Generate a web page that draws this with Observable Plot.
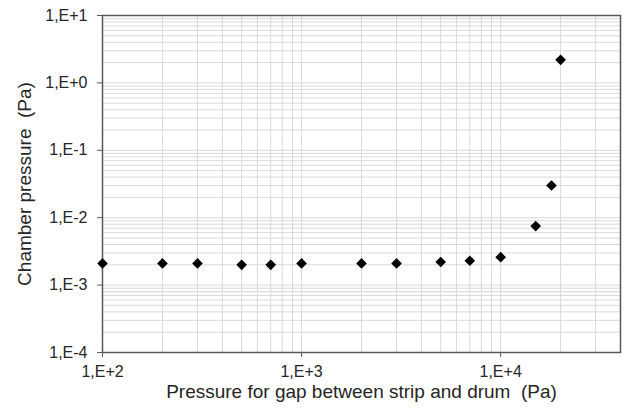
<!DOCTYPE html>
<html>
<head>
<meta charset="utf-8">
<script src="https://cdn.jsdelivr.net/npm/d3@7"></script>
<script src="https://cdn.jsdelivr.net/npm/@observablehq/plot@0.6"></script>
<style>
  html, body { margin: 0; padding: 0; background: #fff; }
  svg text { white-space: pre; }
</style>
</head>
<body>
<div id="chart"></div>
<script>
// Data
const gapPressure = [100, 200, 300, 500, 700, 1000, 2000, 3000, 5000, 7000, 10000, 15000, 18000, 20000];
const chamberPressure = [2.1e-3, 2.1e-3, 2.1e-3, 2.0e-3, 2.0e-3, 2.1e-3, 2.1e-3, 2.1e-3, 2.2e-3, 2.3e-3, 2.6e-3, 7.5e-3, 3.0e-2, 2.2];

const xDomain = [100, 40000];
const yDomain = [1e-4, 10];
const xMajorTicks = [100, 1000, 10000];
const yMajorTicks = [1e-4, 1e-3, 1e-2, 1e-1, 1e0, 1e1];
const xTitle = "Pressure for gap between strip and drum  (Pa)";
const yTitle = "Chamber pressure  (Pa)";

const data = gapPressure.map((x, i) => ({x, y: chamberPressure[i]}));

function minorTicks(domain) {
  const out = [];
  for (let e = Math.floor(Math.log10(domain[0])); e <= Math.ceil(Math.log10(domain[1])); e++) {
    for (let m = 1; m <= 9; m++) {
      const v = m * Math.pow(10, e);
      if (v >= domain[0] * 0.999 && v <= domain[1] * 1.001) out.push(v);
    }
  }
  return out;
}
const xGrid = minorTicks(xDomain);
const yGrid = minorTicks(yDomain);

const fmt = d => {
  const e = Math.round(Math.log10(d));
  return "1,E" + (e >= 0 ? "+" : "-") + Math.abs(e);
};

const chart = Plot.plot({
  width: 624,
  height: 414,
  marginLeft: 102,
  marginRight: 4,
  marginTop: 15,
  marginBottom: 62,
  style: {fontFamily: "Liberation Sans, Arial, sans-serif", fontSize: "16px", color: "#262626"},
  x: {type: "log", domain: xDomain},
  y: {type: "log", domain: yDomain},
  marks: [
    Plot.gridX(xGrid, {stroke: "#d9d9d9", strokeOpacity: 1, strokeWidth: 1}),
    Plot.gridY(yGrid, {stroke: "#d9d9d9", strokeOpacity: 1, strokeWidth: 1}),
    Plot.frame({stroke: "#595959", strokeWidth: 1.5}),
    Plot.axisX({ticks: xMajorTicks, tickFormat: fmt, tickSize: 5, tickPadding: 8, stroke: "#595959", fontSize: 16, label: null}),
    Plot.axisX({ticks: [], label: xTitle, labelAnchor: "center", labelArrow: "none", labelOffset: 45, fontSize: 19}),
    Plot.axisY({ticks: yMajorTicks, tickFormat: fmt, tickSize: 5, tickPadding: 10, stroke: "#595959", fontSize: 16, label: null}),
    Plot.axisY({ticks: [], label: yTitle, labelAnchor: "center", labelArrow: "none", labelOffset: 85, fontSize: 19}),
    Plot.dot(data, {x: "x", y: "y", symbol: "diamond2", r: 4.8, fill: "black", stroke: "none"})
  ]
});
document.getElementById("chart").appendChild(chart);
</script>
</body>
</html>
